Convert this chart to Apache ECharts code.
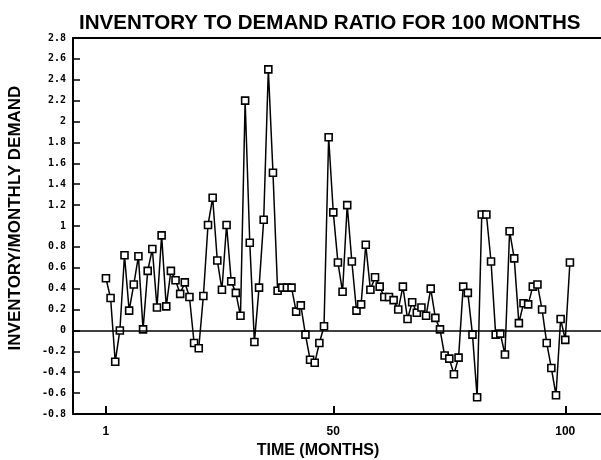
<!DOCTYPE html>
<html>
<head>
<meta charset="utf-8">
<script src="https://cdn.jsdelivr.net/npm/echarts@6/dist/echarts.min.js"></script>
<style>
html,body{margin:0;padding:0;background:#fff;}
#chart{width:601px;height:460px;}
</style>
</head>
<body>
<div id="chart"></div>
<script>
// Data
var months = [];
for (var m = 1; m <= 101; m++) months.push(m);
var ratio = [
  0.50, 0.31, -0.30, 0.00, 0.72, 0.19, 0.44, 0.71, 0.01, 0.57,
  0.78, 0.22, 0.91, 0.23, 0.57, 0.48, 0.35, 0.46, 0.32, -0.12,
  -0.17, 0.33, 1.01, 1.27, 0.67, 0.39, 1.01, 0.47, 0.36, 0.14,
  2.20, 0.84, -0.11, 0.41, 1.06, 2.50, 1.51, 0.38, 0.41, 0.41,
  0.41, 0.18, 0.24, -0.04, -0.28, -0.31, -0.12, 0.04, 1.85, 1.13,
  0.65, 0.37, 1.20, 0.66, 0.19, 0.25, 0.82, 0.39, 0.51, 0.42,
  0.32, 0.32, 0.29, 0.20, 0.42, 0.11, 0.27, 0.17, 0.22, 0.14,
  0.40, 0.12, 0.01, -0.24, -0.27, -0.42, -0.26, 0.42, 0.36, -0.04,
  -0.64, 1.11, 1.11, 0.66, -0.04, -0.03, -0.23, 0.95, 0.69, 0.07,
  0.26, 0.25, 0.42, 0.44, 0.20, -0.12, -0.36, -0.62, 0.11, -0.09,
  0.65
];
var xTickValues = [1, 50, 100];
var xTickLabels = ['1', '50', '100'];
var titleText = 'INVENTORY TO DEMAND RATIO FOR 100 MONTHS';
var xName = 'TIME (MONTHS)';
var yName = 'INVENTORY/MONTHLY DEMAND';

var pts = months.map(function (mm, i) { return [mm, ratio[i]]; });

var chart = echarts.init(document.getElementById('chart'), null, {renderer: 'canvas'});
var font = '"Liberation Sans", Arial, sans-serif';
var X_MIN = -6.1, X_MAX = 107.7;
chart.setOption({
  animation: false,
  backgroundColor: '#fff',
  title: {
    text: titleText,
    left: 74,
    top: 8,
    textStyle: {fontFamily: font, fontWeight: 'bold', fontSize: 20.6, color: '#000'}
  },
  grid: {
    left: 73, top: 38, right: 0, bottom: 46,
    outerBoundsMode: 'none',
    containLabel: false,
    show: false
  },
  xAxis: [{
    type: 'value',
    min: X_MIN,
    max: X_MAX,
    name: xName,
    nameLocation: 'middle',
    nameGap: 27,
    nameTextStyle: {fontFamily: font, fontWeight: 'bold', fontSize: 16, color: '#000', padding: [0, 38, 0, 0]},
    splitLine: {show: false},
    axisLine: {show: true, onZero: false, lineStyle: {color: '#000', width: 2}},
    axisTick: {show: true, inside: true, length: 8, customValues: xTickValues, lineStyle: {color: '#000', width: 2}},
    axisLabel: {
      show: true, margin: 12, customValues: xTickValues,
      fontFamily: font, fontWeight: 'bold', fontSize: 12, color: '#000',
      formatter: function (v) { var i = xTickValues.indexOf(v); return i >= 0 ? xTickLabels[i] : ''; }
    }
  }, {
    type: 'value',
    position: 'top',
    min: X_MIN,
    max: X_MAX,
    splitLine: {show: false},
    axisLine: {show: true, onZero: false, lineStyle: {color: '#000', width: 2}},
    axisTick: {show: false},
    axisLabel: {show: false}
  }],
  yAxis: {
    type: 'value',
    min: -0.8,
    max: 2.8,
    interval: 0.2,
    name: yName,
    nameLocation: 'middle',
    nameGap: 49,
    nameTextStyle: {fontFamily: font, fontWeight: 'bold', fontSize: 17, color: '#000', padding: [0, 0, 0, 16]},
    splitLine: {show: false},
    axisLine: {show: true, onZero: false, lineStyle: {color: '#000', width: 2}},
    axisTick: {show: true, inside: true, length: 7, lineStyle: {color: '#000', width: 1.5}},
    axisLabel: {
      margin: 7,
      fontFamily: '"DejaVu Sans Mono", monospace', fontWeight: 'bold', fontSize: 10, color: '#000',
      formatter: function (v) { return String(Math.round(v * 10) / 10); }
    }
  },
  series: [{
    type: 'line',
    data: pts,
    symbol: 'rect',
    symbolSize: 7,
    showAllSymbol: true,
    lineStyle: {color: '#000', width: 1.5},
    itemStyle: {color: '#fff', borderColor: '#000', borderWidth: 1.6},
    markLine: {
      silent: true,
      symbol: ['none', 'none'],
      label: {show: false},
      lineStyle: {color: '#000', width: 1.5, type: 'solid'},
      data: [{yAxis: 0}]
    }
  }]
});
</script>
</body>
</html>
